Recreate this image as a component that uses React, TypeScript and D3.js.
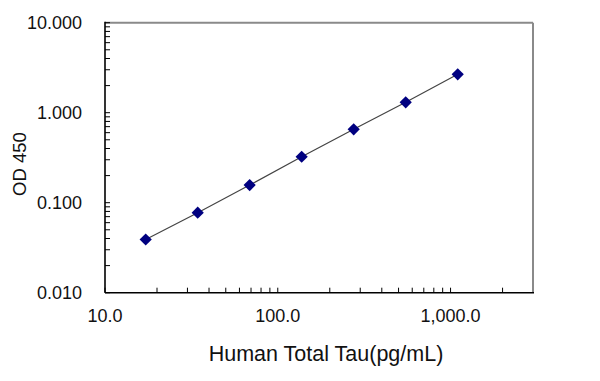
import React from "react";
import * as d3 from "d3";

const concentrations = [17.2, 34.4, 68.75, 137.5, 275, 550, 1100];
const odValues = [0.039, 0.0774, 0.157, 0.324, 0.654, 1.305, 2.67];
const xTickValues = [10, 100, 1000];
const xTickLabels = ["10.0", "100.0", "1,000.0"];
const yTickValues = [0.01, 0.1, 1, 10];
const yTickLabels = ["0.010", "0.100", "1.000", "10.000"];
const xTitle = "Human Total Tau(pg/mL)";
const yTitle = "OD 450";

const W = 600;
const H = 381;
const left = 105;
const right = 533;
const top = 22.7;
const bottom = 292.7;
const FONT = "'Liberation Sans', Arial, sans-serif";

export default function App() {
  const x = d3.scaleLog().domain([10, 3000]).range([left, right]);
  const y = d3.scaleLog().domain([0.01, 10]).range([bottom, top]);

  const xMinor: number[] = [];
  for (const dec of [10, 100, 1000]) {
    for (let k = 2; k <= 9; k++) {
      const v = dec * k;
      if (v < 3000) xMinor.push(v);
    }
  }
  const yMinor: number[] = [];
  for (const dec of [0.01, 0.1, 1]) {
    for (let k = 2; k <= 9; k++) yMinor.push(dec * k);
  }

  const line = d3
    .line<number>()
    .x((_, i) => x(concentrations[i]))
    .y((d) => y(d));

  const diamond = d3.symbol().type(d3.symbolDiamond2).size(95)();

  return (
    <svg
      width={W}
      height={H}
      style={{ position: "absolute", left: 0, top: 0, background: "#fff" }}
      fontFamily={FONT}
    >
      <rect x={0} y={0} width={W} height={H} fill="#fff" />
      {/* top & right frame */}
      <line x1={left} x2={right} y1={top} y2={top} stroke="#8a8a8a" strokeWidth={2} />
      <line x1={right} x2={right} y1={top} y2={bottom} stroke="#8a8a8a" strokeWidth={2} />
      {/* y axis ticks */}
      {yTickValues.map((v) => (
        <line key={"yM" + v} x1={left} x2={left + 5} y1={y(v)} y2={y(v)} stroke="#000" strokeWidth={1} />
      ))}
      {yMinor.map((v, i) => (
        <line key={"ym" + i} x1={left} x2={left + 5} y1={y(v)} y2={y(v)} stroke="#000" strokeWidth={1} />
      ))}
      {/* x axis ticks */}
      {xTickValues.map((v) => (
        <line key={"xM" + v} x1={x(v)} x2={x(v)} y1={bottom} y2={bottom - 5} stroke="#000" strokeWidth={1} />
      ))}
      {xMinor.map((v, i) => (
        <line key={"xm" + i} x1={x(v)} x2={x(v)} y1={bottom} y2={bottom - 5} stroke="#000" strokeWidth={1} />
      ))}
      {/* axes */}
      <line x1={left} x2={left} y1={top - 1} y2={bottom} stroke="#000" strokeWidth={1.6} />
      <line x1={left} x2={right + 1} y1={bottom} y2={bottom} stroke="#000" strokeWidth={1.6} />
      {/* tick labels */}
      {yTickValues.map((v, i) => (
        <text key={"yl" + v} x={left - 23} y={y(v)} dy="0.35em" textAnchor="end" fontSize={18} fill="#111">
          {yTickLabels[i]}
        </text>
      ))}
      {xTickValues.map((v, i) => (
        <text key={"xl" + v} x={x(v)} y={322} textAnchor="middle" fontSize={18} fill="#111">
          {xTickLabels[i]}
        </text>
      ))}
      {/* data line */}
      <path d={line(odValues) || ""} fill="none" stroke="#444" strokeWidth={1.2} />
      {odValues.map((v, i) => (
        <path
          key={"pt" + i}
          d={diamond || ""}
          transform={`translate(${x(concentrations[i])},${y(v)})`}
          fill="#000080"
        />
      ))}
      {/* titles */}
      <text x={326} y={361} textAnchor="middle" fontSize={21.5} fill="#111">
        {xTitle}
      </text>
      <text
        transform={`translate(26,164) rotate(-90)`}
        textAnchor="middle"
        fontSize={18.5}
        fill="#111"
      >
        {yTitle}
      </text>
    </svg>
  );
}
